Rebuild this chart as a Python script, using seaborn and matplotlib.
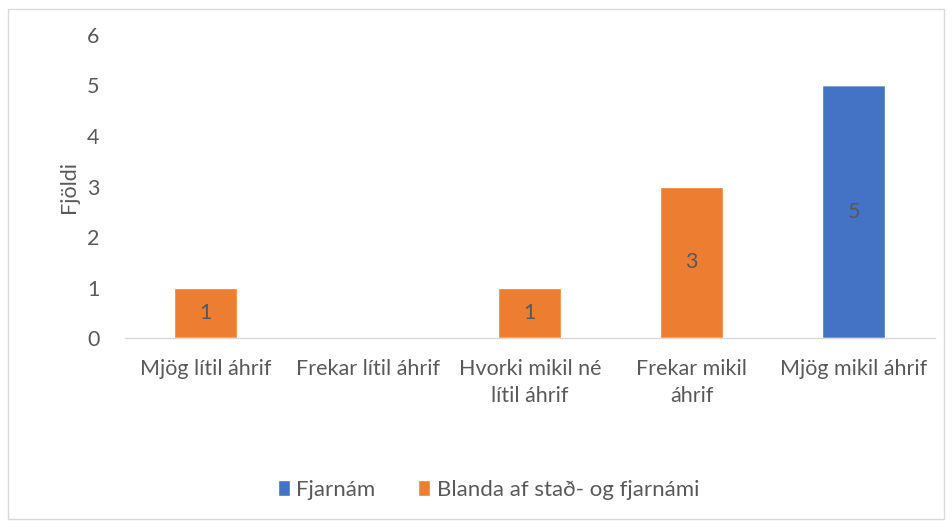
import matplotlib
matplotlib.use("Agg")
import matplotlib.pyplot as plt
import seaborn as sns
import pandas as pd
from matplotlib.patches import Rectangle, Patch

categories = ["Mjög lítil áhrif", "Frekar lítil áhrif", "Hvorki mikil né\nlítil áhrif",
              "Frekar mikil\náhrif", "Mjög mikil áhrif"]
fjarnam = [0, 0, 0, 0, 5]
blanda = [1, 0, 1, 3, 0]
series_names = ["Fjarnám", "Blanda af stað- og fjarnámi"]
colors = ["#4472C4", "#ED7D31"]
yticks = [0, 1, 2, 3, 4, 5, 6]

sns.set_theme(style="white")
plt.rcParams['font.family'] = ['Lato', 'DejaVu Sans']
txt = "#595959"
fs = 15.5

fig = plt.figure(figsize=(9.52, 5.21), dpi=100)
ax = fig.add_axes([0.131, 0.351, 0.851, 0.582])

df = pd.DataFrame({"cat": categories, "f": fjarnam, "b": blanda})
sns.barplot(data=df, x="cat", y="f", color=colors[0], width=0.39, ax=ax,
            saturation=1, order=categories)
sns.barplot(data=df, x="cat", y="b", color=colors[1], width=0.39, ax=ax,
            saturation=1, order=categories, bottom=fjarnam)

for i, (f, b) in enumerate(zip(fjarnam, blanda)):
    if f:
        ax.text(i, f / 2, str(f), ha="center", va="center", fontsize=fs, color=txt)
    if b:
        ax.text(i, f + b / 2, str(b), ha="center", va="center", fontsize=fs, color=txt)

ax.set_ylim(0, 6)
ax.set_xlim(-0.5, 4.5)
ax.set_yticks(yticks)
ax.set_yticklabels([str(t) for t in yticks], fontsize=fs, color=txt)
ax.set_xticklabels(categories, fontsize=fs, color=txt, linespacing=1.45)
ax.tick_params(axis="x", length=0, pad=15)
ax.tick_params(axis="y", length=0, pad=18)
ax.set_xlabel("")
ax.set_ylabel("Fjöldi", fontsize=fs, color=txt, labelpad=6)
for s in ["top", "right", "left"]:
    ax.spines[s].set_visible(False)
ax.spines["bottom"].set_color("#D9D9D9")
ax.spines["bottom"].set_linewidth(1)

handles = [Patch(facecolor=c, label=n) for c, n in zip(colors, series_names)]
fig.legend(handles=handles, loc="center", bbox_to_anchor=(0.513, 0.06), ncol=2,
           frameon=False, fontsize=16, labelcolor=txt, handlelength=0.55,
           handleheight=0.7, handletextpad=0.3, columnspacing=1.9)

fig.patches.append(Rectangle((0.008, 0.004), 0.984, 0.978, transform=fig.transFigure,
                             fill=False, edgecolor="#D9D9D9", linewidth=1))

fig.savefig("out.png", dpi=100)
